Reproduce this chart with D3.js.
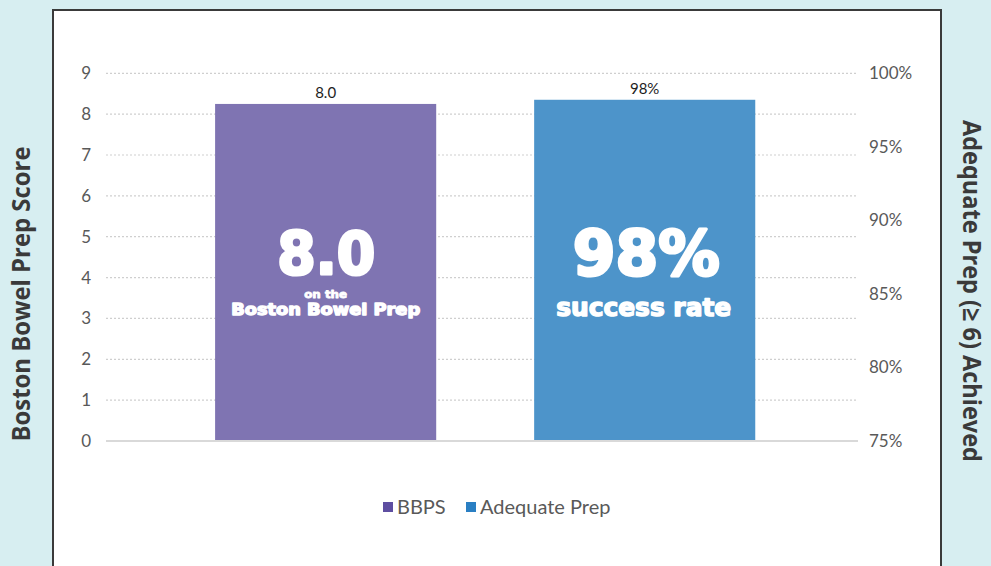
<!DOCTYPE html>
<html>
<head>
<meta charset="utf-8">
<script src="https://cdn.jsdelivr.net/npm/d3@7"></script>
<style>
  html, body { margin: 0; padding: 0; background: #d7eef1; }
  svg { display: block; }
</style>
</head>
<body>
<svg id="chart" width="991" height="566"></svg>
<script>
// ---- data ----
const categories = ["BBPS", "Adequate Prep"];
const bbpsValue = 8.25;          // bar height read on left axis
const adequateValue = 98.2;       // bar height read on right axis (%)
const barLabels = ["8.0", "98%"];
const leftTicks = [0, 1, 2, 3, 4, 5, 6, 7, 8, 9];
const rightTicks = [75, 80, 85, 90, 95, 100];
const bigText = ["8.0", "98%"];
const subTextBBPS = ["on the", "Boston Bowel Prep"];
const subTextAdequate = ["success rate"];
const legendLabels = ["BBPS", "Adequate Prep"];
const leftTitle = "Boston Bowel Prep Score";
const rightTitle = "Adequate Prep (\u2265 6) Achieved";

// ---- styles ----
const barColors = ["#7f74b2", "#4d94ca"];
const legendColors = ["#5e4ea1", "#2a7fc3"];
const font = "Lato, 'Open Sans', sans-serif";

const svg = d3.select("#chart");

// panel
svg.append("rect").attr("x", 53).attr("y", 10).attr("width", 888).attr("height", 570)
  .attr("fill", "#fff").attr("stroke", "#3a3a3a").attr("stroke-width", 2);

const plotLeft = 106, plotRight = 858, plotTop = 73.3, plotBottom = 441;

const x = d3.scaleBand().domain(categories).range([plotLeft, plotRight])
  .paddingInner(0.307).paddingOuter(0.332).align(0.515);
const yL = d3.scaleLinear().domain([0, 9]).range([plotBottom, plotTop]);
const yR = d3.scaleLinear().domain([75, 100]).range([plotBottom, plotTop]);

// gridlines
const grid = svg.append("g");
grid.selectAll("line.g").data(leftTicks.filter(d => d > 0)).join("line")
  .attr("x1", plotLeft).attr("x2", plotRight)
  .attr("y1", d => yL(d)).attr("y2", d => yL(d))
  .attr("stroke", "#cfcfcf").attr("stroke-width", 1.2).attr("stroke-dasharray", "2,2");

// left axis
const leftAxis = d3.axisLeft(yL).tickValues(leftTicks).tickSize(0).tickPadding(15).tickFormat(d3.format("d"));
const gL = svg.append("g").attr("transform", `translate(${plotLeft},0)`).call(leftAxis);
gL.select(".domain").remove();
gL.selectAll("text").attr("font-family", font).attr("font-size", 17).attr("fill", "#595959");

// right axis
const rightAxis = d3.axisRight(yR).tickValues(rightTicks).tickSize(0).tickPadding(11).tickFormat(d => d + "%");
const gR = svg.append("g").attr("transform", `translate(${plotRight},0)`).call(rightAxis);
gR.select(".domain").remove();
gR.selectAll("text").attr("font-family", font).attr("font-size", 17).attr("fill", "#595959");

// bars
const barData = [
  { cat: categories[0], top: yL(bbpsValue), label: barLabels[0] },
  { cat: categories[1], top: yR(adequateValue), label: barLabels[1] }
];
svg.append("g").selectAll("rect").data(barData).join("rect")
  .attr("x", d => x(d.cat)).attr("width", x.bandwidth())
  .attr("y", d => d.top).attr("height", d => plotBottom - d.top)
  .attr("fill", (d, i) => barColors[i]);

// baseline
svg.append("line").attr("x1", plotLeft).attr("x2", plotRight)
  .attr("y1", yL(0)).attr("y2", yL(0)).attr("stroke", "#d9d9d9").attr("stroke-width", 2);

// value labels
svg.append("g").selectAll("text").data(barData).join("text")
  .attr("x", d => x(d.cat) + x.bandwidth() / 2).attr("y", d => d.top - 5.5)
  .attr("text-anchor", "middle").attr("font-family", font).attr("font-size", 15)
  .attr("fill", "#1e1e1e").text(d => d.label);

// big text inside bars
const bigFont = "'DejaVu Sans', sans-serif";
const cx0 = x(categories[0]) + x.bandwidth() / 2;
const cx1 = x(categories[1]) + x.bandwidth() / 2;
function bt(cx, y, txt, size, len, sw) {
  svg.append("text").attr("x", cx).attr("y", y).attr("text-anchor", "middle")
    .attr("font-family", bigFont).attr("font-weight", "bold").attr("font-size", size)
    .attr("fill", "#fff").attr("stroke", "#fff").attr("stroke-width", sw)
    .attr("stroke-linejoin", "round")
    .attr("textLength", len).attr("lengthAdjust", "spacingAndGlyphs")
    .text(txt);
}
bt(cx0 + 0.5, 273.5, bigText[0], 59, 98, 3);
bt(cx1 + 1.5, 275, bigText[1], 62, 147, 3);
bt(cx0, 297.5, subTextBBPS[0], 11, 43, 0.8);
bt(cx0, 315, subTextBBPS[1], 15, 189, 1.3);
bt(cx1 - 1, 316, subTextAdequate[0], 24, 175, 1.4);

// legend
const legend = svg.append("g");
const legendX = [383, 466];
legendLabels.forEach((l, i) => {
  legend.append("rect").attr("x", legendX[i]).attr("y", 502).attr("width", 10).attr("height", 10)
    .attr("fill", legendColors[i]);
  legend.append("text").attr("x", legendX[i] + 14).attr("y", 514)
    .attr("font-family", font).attr("font-size", 20).attr("fill", "#595959").text(l);
});

// axis titles
svg.append("text").attr("transform", "translate(30,294) rotate(-90)")
  .attr("text-anchor", "middle").attr("font-family", "'Open Sans', sans-serif").attr("font-weight", "bold")
  .attr("font-size", 25).attr("fill", "#3a3a3a")
  .attr("textLength", 295).attr("lengthAdjust", "spacingAndGlyphs").text(leftTitle);
svg.append("text").attr("transform", "translate(963,291) rotate(90)")
  .attr("text-anchor", "middle").attr("font-family", "'Open Sans', sans-serif").attr("font-weight", "bold")
  .attr("font-size", 25).attr("fill", "#3a3a3a")
  .attr("textLength", 342).attr("lengthAdjust", "spacingAndGlyphs").text(rightTitle);
</script>
</body>
</html>
